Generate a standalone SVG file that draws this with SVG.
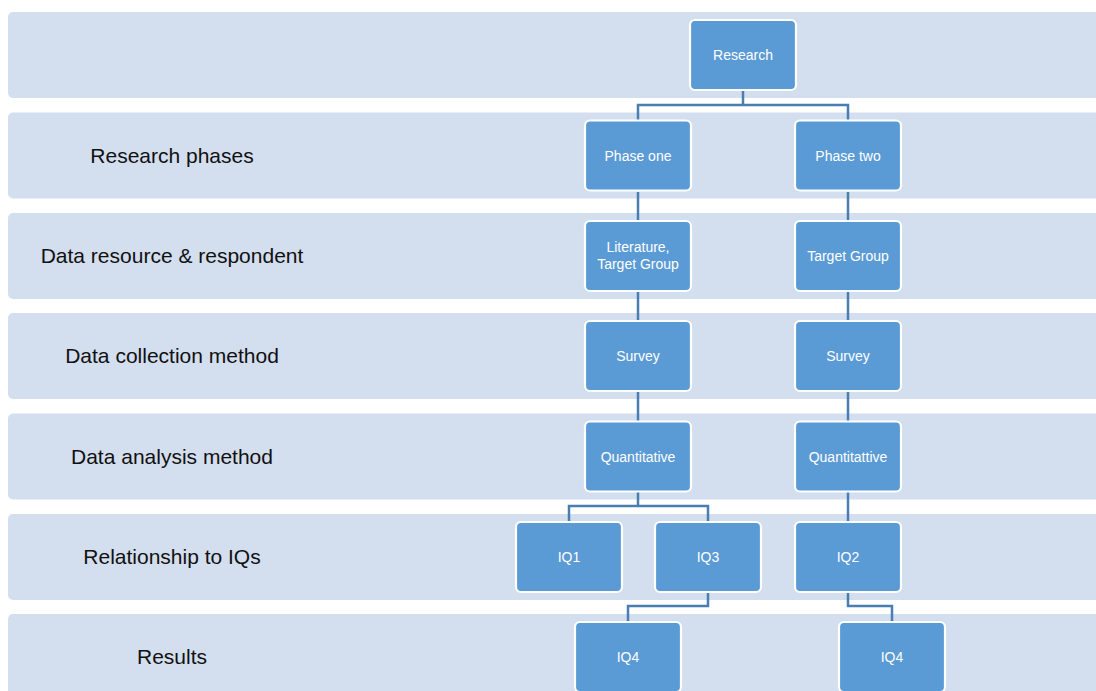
<svg xmlns="http://www.w3.org/2000/svg" width="1096" height="691" viewBox="0 0 1096 691">
<style>
.band{fill:#D3DEEF}
.lbl{font-family:"Liberation Sans",Arial,sans-serif;font-size:21px;fill:#111;text-anchor:middle}
.node rect{fill:#5B9BD5;stroke:#fff;stroke-width:2.2}
.node text{font-family:"Liberation Sans",Arial,sans-serif;font-size:14px;fill:#fff;text-anchor:middle}
.conn{fill:none;stroke:#4A7EB0;stroke-width:2.5}
</style>
<rect width="1096" height="691" fill="#fff"/>
<g id="bands">
<rect class="band" x="8" y="12" width="1096" height="86" rx="5"/>
<rect class="band" x="8" y="112.5" width="1096" height="86" rx="5"/>
<rect class="band" x="8" y="213" width="1096" height="86" rx="5"/>
<rect class="band" x="8" y="313" width="1096" height="86" rx="5"/>
<rect class="band" x="8" y="413.5" width="1096" height="86" rx="5"/>
<rect class="band" x="8" y="514" width="1096" height="86" rx="5"/>
<rect class="band" x="8" y="614" width="1096" height="86" rx="5"/>
</g>
<g id="labels">
<text class="lbl" x="172" y="162.5">Research phases</text>
<text class="lbl" x="172" y="262.5">Data resource &amp; respondent</text>
<text class="lbl" x="172" y="362.5">Data collection method</text>
<text class="lbl" x="172" y="463.5">Data analysis method</text>
<text class="lbl" x="172" y="563.5">Relationship to IQs</text>
<text class="lbl" x="172" y="663.5">Results</text>
</g>
<g id="connectors">
<path class="conn" d="M743 91V105H638V120M743 105H848V120"/>
<path class="conn" d="M638 192V220M848 192V220"/>
<path class="conn" d="M638 292V320M848 292V320"/>
<path class="conn" d="M638 392V421M848 392V421"/>
<path class="conn" d="M638 492V506H569V521M638 506H708V521"/>
<path class="conn" d="M848 492V521"/>
<path class="conn" d="M708 593V606H628V621"/>
<path class="conn" d="M848 593V606H892V621"/>
</g>
<g id="n-research" class="node"><rect x="690" y="20" width="106" height="70" rx="5"/><text x="743" y="60">Research</text></g>
<g id="n-phase1" class="node"><rect x="585" y="120.5" width="106" height="70" rx="5"/><text x="638" y="160.5">Phase one</text></g>
<g id="n-phase2" class="node"><rect x="795" y="120.5" width="106" height="70" rx="5"/><text x="848" y="160.5">Phase two</text></g>
<g id="n-lit" class="node"><rect x="585" y="221" width="106" height="70" rx="5"/><text x="638" y="252">Literature,</text><text x="638" y="269">Target Group</text></g>
<g id="n-tg" class="node"><rect x="795" y="221" width="106" height="70" rx="5"/><text x="848" y="260.5">Target Group</text></g>
<g id="n-survey1" class="node"><rect x="585" y="321" width="106" height="70" rx="5"/><text x="638" y="361">Survey</text></g>
<g id="n-survey2" class="node"><rect x="795" y="321" width="106" height="70" rx="5"/><text x="848" y="361">Survey</text></g>
<g id="n-quant1" class="node"><rect x="585" y="421.5" width="106" height="70" rx="5"/><text x="638" y="461.5">Quantitative</text></g>
<g id="n-quant2" class="node"><rect x="795" y="421.5" width="106" height="70" rx="5"/><text x="848" y="461.5">Quantitattive</text></g>
<g id="n-iq1" class="node"><rect x="516" y="522" width="106" height="70" rx="5"/><text x="569" y="561.5">IQ1</text></g>
<g id="n-iq3" class="node"><rect x="655" y="522" width="106" height="70" rx="5"/><text x="708" y="561.5">IQ3</text></g>
<g id="n-iq2" class="node"><rect x="795" y="522" width="106" height="70" rx="5"/><text x="848" y="561.5">IQ2</text></g>
<g id="n-iq4a" class="node"><rect x="575" y="622" width="106" height="70" rx="5"/><text x="628" y="661.5">IQ4</text></g>
<g id="n-iq4b" class="node"><rect x="839" y="622" width="106" height="70" rx="5"/><text x="892" y="661.5">IQ4</text></g>
</svg>
